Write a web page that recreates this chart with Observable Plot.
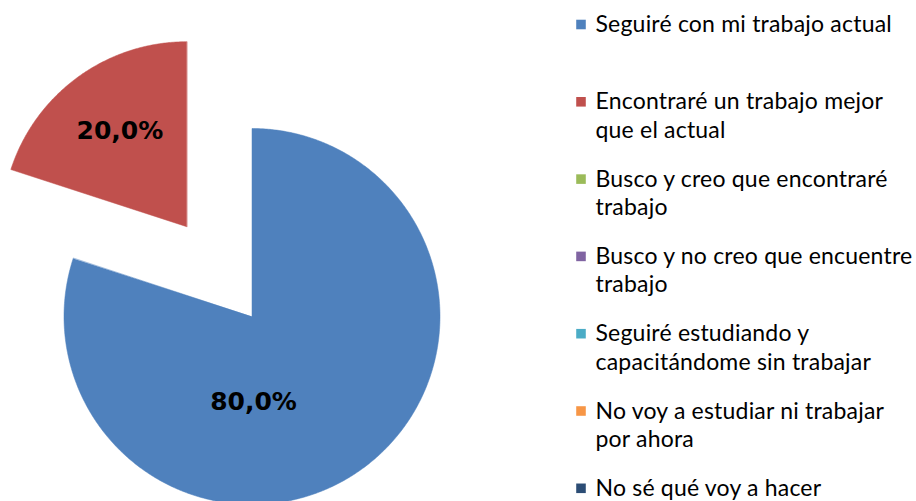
<!DOCTYPE html>
<html>
<head>
<meta charset="utf-8">
<script src="https://cdn.jsdelivr.net/npm/d3@7"></script>
<script src="https://cdn.jsdelivr.net/npm/@observablehq/plot@0.6"></script>
<style>
  html, body { margin: 0; padding: 0; background: #ffffff; }
  #chart { width: 916px; height: 501px; }
  #chart svg g[font-family="Lato"] { letter-spacing: 0.2px; }
</style>
</head>
<body>
<div id="chart"></div>
<script>
// ---- data ----
const categories = [
  "Seguiré con mi trabajo actual",
  "Encontraré un trabajo mejor que el actual",
  "Busco y creo que encontraré trabajo",
  "Busco y no creo que encuentre trabajo",
  "Seguiré estudiando y capacitándome sin trabajar",
  "No voy a estudiar ni trabajar por ahora",
  "No sé qué voy a hacer"
];
const legendLabels = [
  "Seguiré con mi trabajo actual",
  "Encontraré un trabajo mejor\nque el actual",
  "Busco y creo que encontraré\ntrabajo",
  "Busco y no creo que encuentre\ntrabajo",
  "Seguiré estudiando y\ncapacitándome sin trabajar",
  "No voy a estudiar ni trabajar\npor ahora",
  "No sé qué voy a hacer"
];
const values = [80, 20, 0, 0, 0, 0, 0];
const colors = ["#4F81BD", "#C0504D", "#9BBB59", "#8064A2", "#4BACC6", "#F79646", "#2C4D75"];

// ---- layout ----
const W = 916, H = 501;
const center = {x: 251.5, y: 316};
const sliceRadius = [188, 185, 188, 188, 188, 188, 188];
const sliceExplode = [0, 111, 0, 0, 0, 0, 0];
// label placement relative to the slice vertex: angle (deg, clockwise from top), fraction of radius
const labelPlacement = [{angle: 179, frac: 0.457}, {angle: 325, frac: 0.63}];
const legend = {markerX: 580.5, textX: 595, firstBaseline: 31.5, step: 77.3, lineHeight: 28.5, fontSize: 23};

// ---- geometry from values ----
const total = d3.sum(values);
let acc = 0;
const slices = values.map((v, i) => {
  const a0 = acc / total * 2 * Math.PI;
  acc += v;
  const a1 = acc / total * 2 * Math.PI;
  const mid = (a0 + a1) / 2;
  const ox = center.x + sliceExplode[i] * Math.sin(mid);
  const oy = center.y - sliceExplode[i] * Math.cos(mid);
  return {i, cat: categories[i], v, a0, a1, ox, oy, r: sliceRadius[i]};
}).filter(s => s.v > 0);

const piePts = [];
for (const s of slices) {
  piePts.push({cat: s.cat, x: s.ox, y: s.oy});
  const n = Math.max(2, Math.ceil((s.a1 - s.a0) / (Math.PI / 360)));
  for (let k = 0; k <= n; ++k) {
    const a = s.a0 + (s.a1 - s.a0) * k / n;
    piePts.push({cat: s.cat, x: s.ox + s.r * Math.sin(a), y: s.oy - s.r * Math.cos(a)});
  }
}

const pieLabels = slices.map((s, j) => {
  const p = labelPlacement[j];
  const a = p.angle * Math.PI / 180;
  return {
    text: s.v.toFixed(1).replace(".", ",") + "%",
    x: s.ox + p.frac * s.r * Math.sin(a),
    y: s.oy - p.frac * s.r * Math.cos(a)
  };
});

const legendRows = categories.map((c, i) => ({
  cat: c,
  label: legendLabels[i],
  baseline: legend.firstBaseline + i * legend.step
}));

const plot = Plot.plot({
  width: W,
  height: H,
  margin: 0,
  style: {background: "#ffffff"},
  x: {domain: [0, W], range: [0, W], axis: null},
  y: {domain: [0, H], range: [0, H], axis: null},
  color: {domain: categories, range: colors},
  marks: [
    Plot.line(piePts, {x: "x", y: "y", z: "cat", fill: "cat", stroke: "cat", strokeWidth: 0.5, curve: "linear-closed"}),
    Plot.text(pieLabels, {
      x: "x", y: "y", text: "text",
      fontFamily: "DejaVu Sans", fontWeight: "bold", fontSize: 25, fill: "#000000"
    }),
    Plot.dot(legendRows, {
      x: () => legend.markerX, y: d => d.baseline - 7.5,
      symbol: "square", r: 5.4, fill: "cat", stroke: "none"
    }),
    Plot.text(legendRows, {
      x: () => legend.textX,
      y: d => d.baseline - 0.71 * legend.lineHeight,
      text: "label",
      textAnchor: "start", lineAnchor: "top",
      lineHeight: legend.lineHeight / legend.fontSize,
      fontFamily: "Lato", fontSize: legend.fontSize, fill: "#000000"
    })
  ]
});
document.getElementById("chart").appendChild(plot);
</script>
</body>
</html>
